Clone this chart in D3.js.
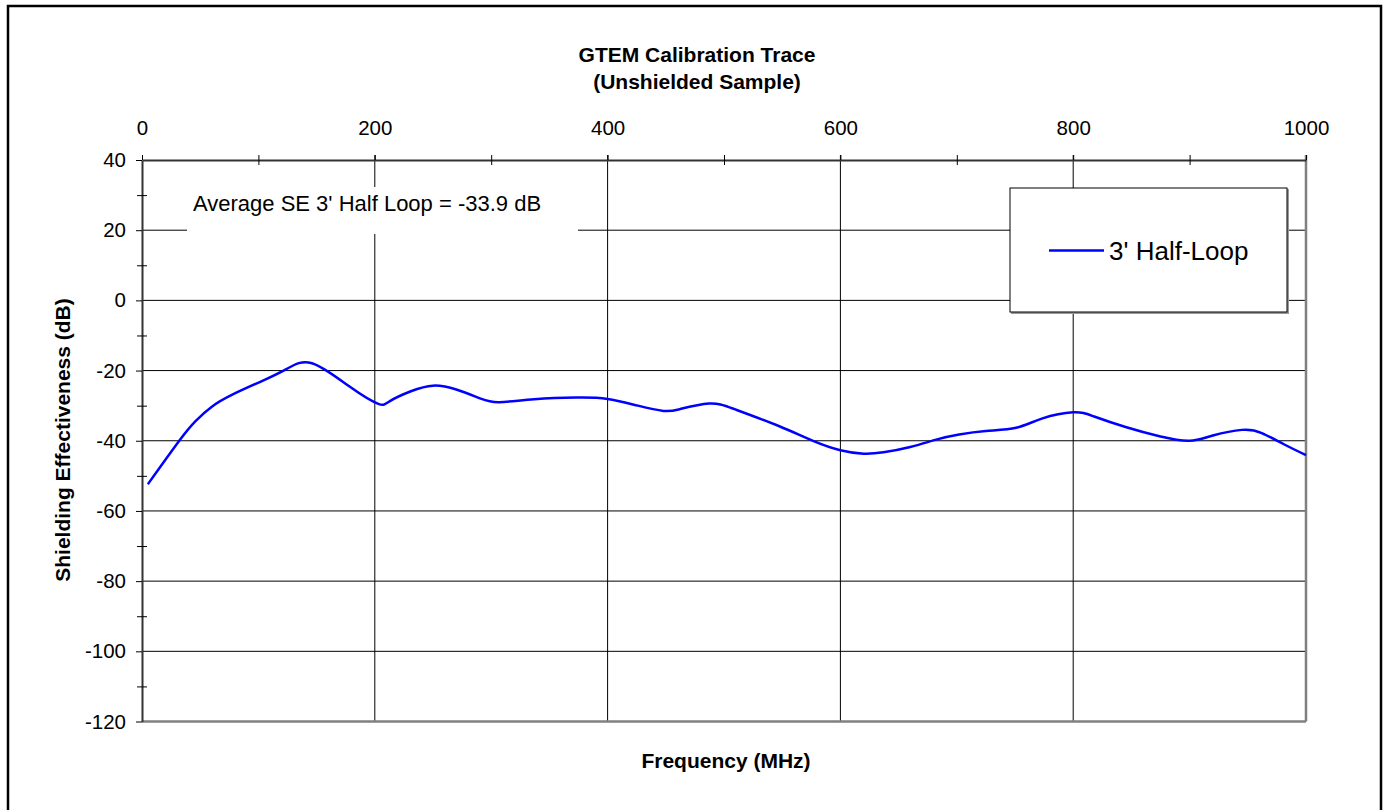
<!DOCTYPE html>
<html>
<head>
<meta charset="utf-8">
<script src="https://cdn.jsdelivr.net/npm/d3@7"></script>
<style>
  body { margin: 0; background: #fff; }
  svg { display: block; font-family: "Liberation Sans", Arial, sans-serif; }
</style>
</head>
<body>
<script>
// chart values
var freqMHz = [5, 32, 46, 60, 78, 103, 124, 146, 178, 203, 213, 231, 250, 270, 291, 307, 337, 373, 400,
               426, 448, 462, 487, 509, 547, 577, 600, 620, 637, 660, 683, 702, 725, 751, 773, 800, 818, 845,
               875, 900, 920, 945, 962, 981, 1000];
var seDb = [-52.4, -40, -34.4, -30.3, -26.8, -23.0, -19.6, -17.9, -24.5, -29.5, -28.7, -25.9, -24.3, -25.4, -28, -29, -28.2, -27.7, -28.1,
            -30, -31.5, -31, -29.4, -31, -35.8, -40.1, -42.7, -43.7, -43.3, -41.8, -39.6, -38.2, -37.2, -36.3, -33.7, -31.9, -33.1, -36.1,
            -38.8, -40, -38.5, -36.9, -37.8, -41, -44.1];
var xTicks = [0, 200, 400, 600, 800, 1000];
var xMinor = [100, 300, 500, 700, 900];
var yTicks = [40, 20, 0, -20, -40, -60, -80, -100, -120];
var yMinor = [30, 10, -10, -30, -50, -70, -90, -110];
var titleLines = ["GTEM Calibration Trace", "(Unshielded Sample)"];
var seriesName = "3' Half-Loop";
var note = "Average SE 3' Half Loop = -33.9 dB";

var width = 1388,
    height = 810;

var svg = d3.select("body")
    .append("svg")
    .attr("width", width)
    .attr("height", height);

//outer chart frame
svg.append("rect")
    .attr("x", 8).attr("y", 6)
    .attr("width", 1373).attr("height", 820)
    .attr("fill", "#fff")
    .attr("stroke", "#000")
    .attr("stroke-width", 2.5);

var x = d3.scaleLinear().domain([0, 1000]).range([142, 1306]);
var y = d3.scaleLinear().domain([40, -120]).range([160, 721.5]);

//grid lines
svg.append("g")
    .selectAll("line.hgrid")
    .data(yTicks.slice(1, -1))
    .enter()
    .append("line")
    .attr("x1", x(0)).attr("x2", x(1000))
    .attr("y1", function(d){ return y(d); })
    .attr("y2", function(d){ return y(d); })
    .attr("stroke", "#000")
    .attr("stroke-width", 1);

svg.append("g")
    .selectAll("line.vgrid")
    .data(xTicks.slice(1, -1))
    .enter()
    .append("line")
    .attr("x1", function(d){ return x(d); })
    .attr("x2", function(d){ return x(d); })
    .attr("y1", y(40) - 5).attr("y2", y(-120))
    .attr("stroke", "#000")
    .attr("stroke-width", 1);

//plot area border (right / bottom are grey in the original)
svg.append("line")
    .attr("x1", x(1000)).attr("x2", x(1000))
    .attr("y1", y(40) - 5).attr("y2", y(-120))
    .attr("stroke", "#808080").attr("stroke-width", 2.5);
svg.append("line")
    .attr("x1", x(0)).attr("x2", x(1000))
    .attr("y1", y(-120)).attr("y2", y(-120))
    .attr("stroke", "#808080").attr("stroke-width", 2.5);

//average note, its white box hides the grid behind it
svg.append("rect")
    .attr("x", 187).attr("y", 187)
    .attr("width", 391).attr("height", 47)
    .attr("fill", "#fff");
svg.append("text")
    .attr("x", 193).attr("y", 211)
    .attr("font-size", 22)
    .text(note);

//axes, labels use a plain hyphen like the original
var fmt = function(d){ return String(d); };
var xAxis = svg.append("g")
    .attr("transform", "translate(0," + y(40) + ")")
    .call(d3.axisTop(x).tickValues(xTicks).tickSize(5).tickSizeOuter(0).tickPadding(20).tickFormat(fmt));
var yAxis = svg.append("g")
    .attr("transform", "translate(" + x(0) + ",0)")
    .call(d3.axisLeft(y).tickValues(yTicks).tickSize(6).tickSizeOuter(0).tickPadding(10).tickFormat(fmt));

[xAxis, yAxis].forEach(function(a){
    a.select(".domain").attr("stroke", "#333").attr("stroke-width", 2);
    a.selectAll(".tick line").attr("stroke", "#000");
    a.selectAll("text")
        .attr("font-family", "Liberation Sans, Arial, sans-serif")
        .attr("font-size", 20.5)
        .attr("fill", "#000");
});

//minor ticks cross the axis line
[5, -5].forEach(function(s){
    svg.append("g")
        .attr("transform", "translate(0," + y(40) + ")")
        .call(d3.axisTop(x).tickValues(xMinor).tickSize(s).tickFormat(""))
        .call(function(g){ g.select(".domain").remove(); });
    svg.append("g")
        .attr("transform", "translate(" + x(0) + ",0)")
        .call(d3.axisLeft(y).tickValues(yMinor).tickSize(s).tickFormat(""))
        .call(function(g){ g.select(".domain").remove(); });
});

//the trace
var line = d3.line()
    .x(function(d, i){ return x(freqMHz[i]); })
    .y(function(d){ return y(d); })
    .curve(d3.curveNatural);

svg.append("path")
    .datum(seDb)
    .attr("fill", "none")
    .attr("stroke", "#0000ff")
    .attr("stroke-width", 2.5)
    .attr("d", line);

//legend
var legend = svg.append("g");
legend.append("rect")
    .attr("x", 1011).attr("y", 189)
    .attr("width", 278).attr("height", 125)
    .attr("fill", "#999");
legend.append("rect")
    .attr("x", 1010).attr("y", 188)
    .attr("width", 277).attr("height", 124)
    .attr("fill", "#fff")
    .attr("stroke", "#000")
    .attr("stroke-width", 1);
legend.append("line")
    .attr("x1", 1049).attr("x2", 1104)
    .attr("y1", 250.5).attr("y2", 250.5)
    .attr("stroke", "#0000ff")
    .attr("stroke-width", 2.5);
legend.append("text")
    .attr("x", 1109).attr("y", 260)
    .attr("font-size", 26)
    .text(seriesName);

//titles
svg.append("g")
    .selectAll("text")
    .data(titleLines)
    .enter()
    .append("text")
    .attr("x", 697)
    .attr("y", function(d, i){ return 62 + i * 27; })
    .attr("text-anchor", "middle")
    .attr("font-weight", "bold")
    .attr("font-size", 21)
    .text(function(d){ return d; });

svg.append("text")
    .attr("x", 726).attr("y", 768)
    .attr("text-anchor", "middle")
    .attr("font-weight", "bold")
    .attr("font-size", 21)
    .text("Frequency (MHz)");

svg.append("text")
    .attr("transform", "translate(70,440) rotate(-90)")
    .attr("text-anchor", "middle")
    .attr("font-weight", "bold")
    .attr("font-size", 21)
    .text("Shielding Effectiveness (dB)");
</script>
</body>
</html>
